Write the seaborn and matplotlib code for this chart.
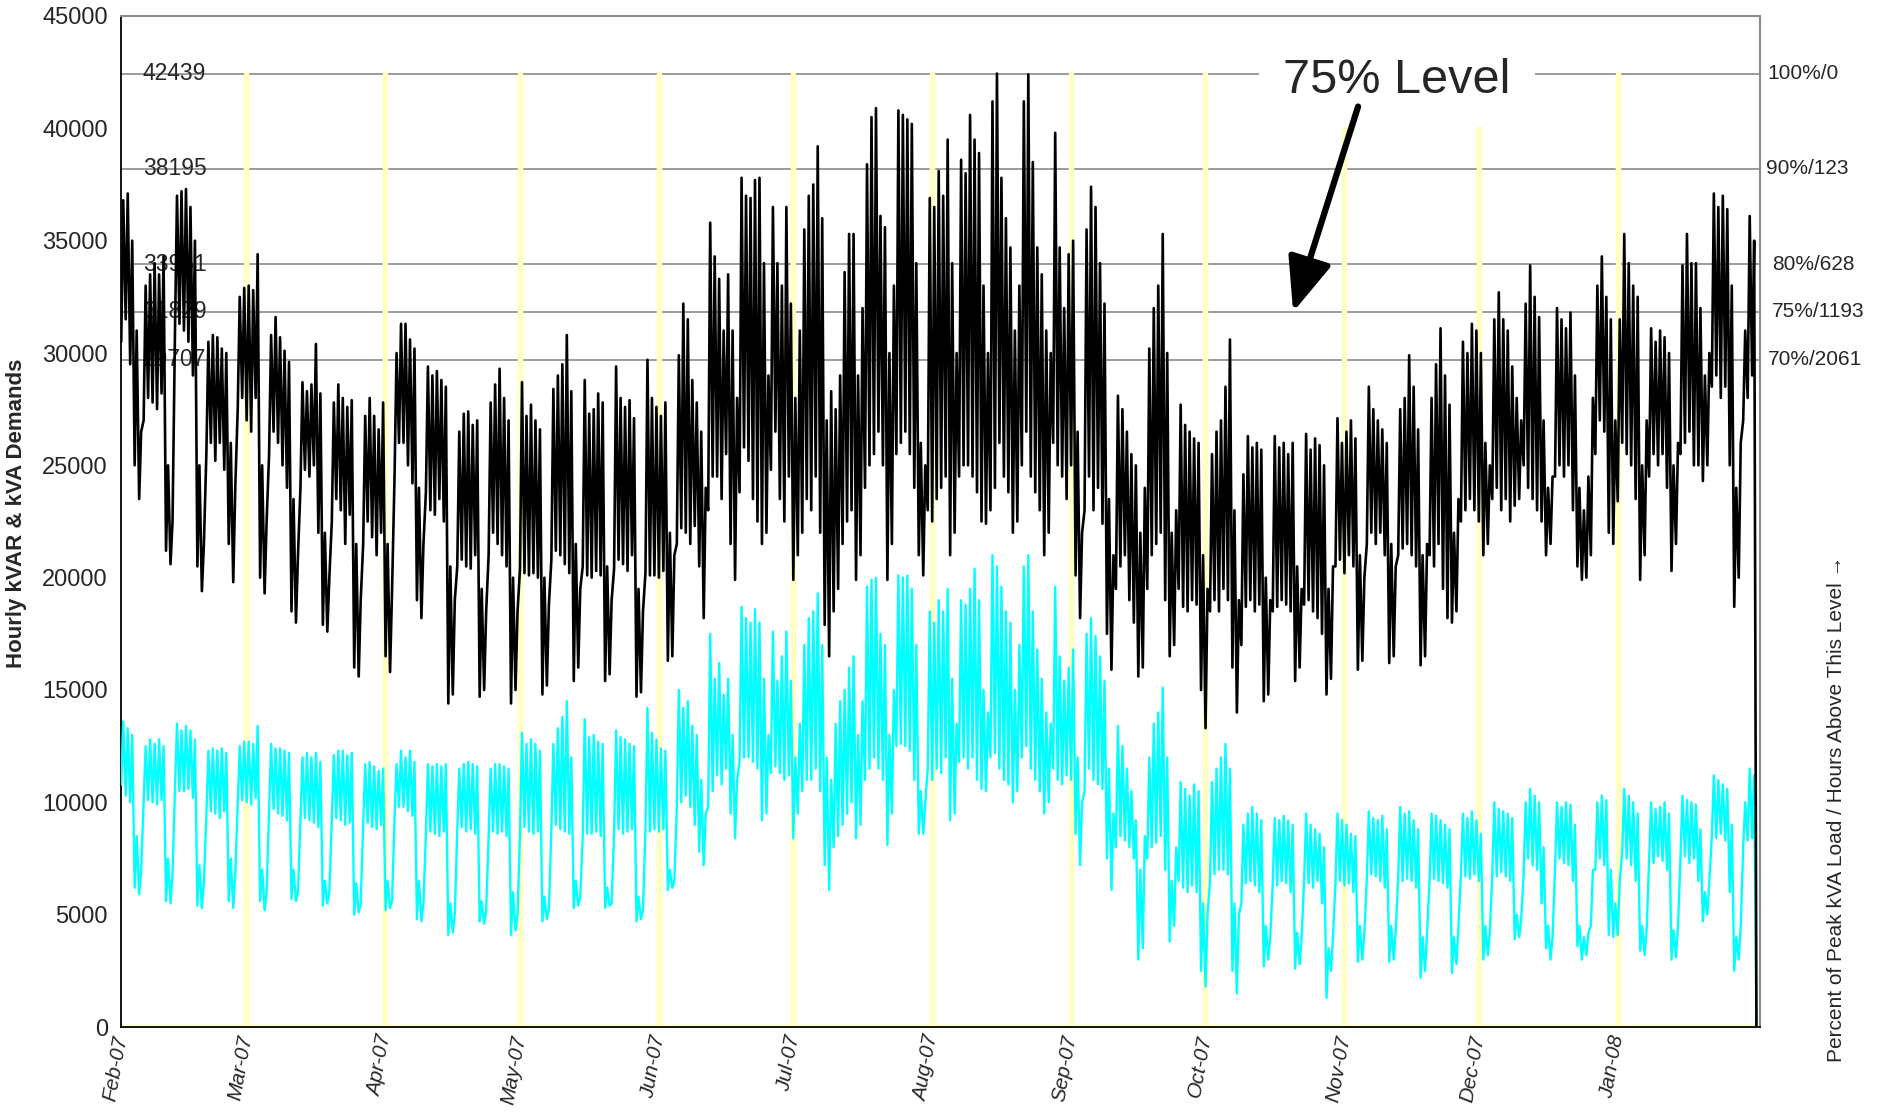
import numpy as np
import pandas as pd
import matplotlib
matplotlib.use('Agg')
import matplotlib.pyplot as plt
import matplotlib.transforms as mtransforms
import seaborn as sns

# Daily peak and overnight low, in thousands (kVA = black trace, kVAR = cyan trace).
# One row per week, starting 1 Feb 2007; last row is the final day.
kva_peak_k = [
    36.8, 37.1, 35.0, 31.0, 26.5, 33.0, 33.5,
    34.0, 33.5, 34.3, 25.0, 22.5, 37.0, 37.2,
    37.3, 36.5, 35.0, 25.0, 21.5, 30.5, 30.8,
    30.7, 30.2, 30.0, 26.0, 24.0, 32.5, 32.9,
    33.0, 32.8, 34.4, 25.0, 22.5, 30.8, 31.6,
    30.7, 30.1, 29.6, 23.5, 21.0, 28.7, 28.3,
    28.6, 30.4, 28.2, 22.0, 20.0, 27.8, 28.6,
    28.0, 27.6, 27.9, 21.5, 19.0, 27.2, 28.0,
    27.2, 26.6, 27.8, 21.5, 19.5, 30.0, 31.3,
    31.3, 30.6, 30.2, 24.0, 21.5, 29.4, 29.0,
    29.2, 28.8, 28.5, 20.5, 19.0, 26.5, 27.3,
    27.4, 26.8, 27.0, 19.5, 18.5, 27.8, 28.6,
    29.3, 28.0, 27.0, 20.0, 18.5, 28.7, 27.2,
    27.7, 27.0, 26.6, 20.0, 18.8, 28.4, 29.0,
    29.5, 30.8, 28.3, 21.5, 19.5, 28.8, 27.3,
    27.5, 28.2, 27.8, 20.5, 19.0, 29.4, 28.0,
    27.6, 27.9, 27.1, 19.5, 18.5, 29.7, 28.0,
    27.6, 27.2, 27.8, 22.0, 21.0, 29.9, 32.2,
    31.5, 28.8, 27.8, 26.5, 24.0, 35.8, 34.3,
    33.3, 31.0, 33.5, 31.0, 28.0, 37.8, 37.0,
    36.9, 37.7, 37.8, 34.0, 29.0, 36.5, 34.0,
    33.0, 36.5, 32.2, 28.0, 31.0, 35.5, 37.0,
    37.5, 39.2, 36.0, 27.0, 28.3, 27.5, 29.0,
    33.6, 35.3, 35.3, 29.0, 32.0, 38.4, 40.5,
    40.9, 36.1, 35.6, 30.0, 33.0, 40.8, 40.6,
    40.4, 40.2, 34.0, 26.0, 25.0, 36.9, 36.5,
    38.1, 37.0, 39.5, 34.0, 30.0, 38.6, 38.0,
    40.6, 39.5, 38.9, 33.0, 30.0, 41.2, 42.439,
    37.8, 36.0, 34.7, 31.0, 33.0, 41.2, 42.4,
    38.5, 34.7, 33.5, 31.0, 30.0, 39.8, 34.7,
    32.0, 34.4, 35.0, 26.5, 22.0, 35.5, 37.4,
    36.5, 34.0, 32.2, 23.5, 21.0, 28.1, 27.5,
    26.5, 25.5, 25.0, 22.0, 24.0, 30.2, 32.0,
    33.0, 35.3, 30.0, 22.0, 23.0, 27.7, 26.8,
    26.5, 26.2, 26.0, 21.0, 19.5, 25.5, 26.5,
    27.0, 28.5, 30.6, 23.0, 19.0, 24.6, 26.3,
    25.8, 26.0, 25.7, 20.0, 19.0, 26.3, 25.8,
    26.0, 25.5, 26.0, 20.5, 19.5, 26.4, 25.7,
    26.2, 25.9, 25.0, 19.5, 20.5, 27.1, 26.0,
    26.5, 27.0, 26.2, 21.0, 20.0, 28.5, 27.5,
    27.0, 26.6, 26.0, 21.5, 20.5, 27.5, 28.0,
    29.9, 28.5, 26.6, 21.0, 21.5, 28.0, 29.5,
    31.1, 29.0, 27.7, 22.0, 23.5, 30.5, 30.0,
    31.3, 31.0, 30.0, 26.0, 25.0, 31.5, 32.7,
    31.5, 31.0, 29.4, 28.0, 27.0, 32.2, 33.9,
    32.5, 31.6, 27.0, 24.0, 24.5, 32.0, 31.5,
    31.1, 31.8, 29.0, 24.0, 23.0, 24.5, 28.0,
    33.0, 34.3, 32.5, 31.5, 27.0, 31.5, 35.3,
    34.0, 33.0, 32.5, 25.0, 27.0, 31.1, 30.5,
    31.0, 30.7, 30.0, 25.0, 26.0, 33.9, 35.3,
    34.0, 34.0, 32.0, 29.0, 30.0, 37.1, 36.5,
    37.0, 36.4, 33.0, 24.0, 26.0, 31.0, 36.1,
    35.0,
]
kva_low_k = [
    30.5, 31.5, 29.5, 25.0, 23.5, 27.0, 28.0,
    27.8, 27.5, 28.2, 21.2, 20.6, 31.0, 31.3,
    31.0, 30.5, 29.0, 20.5, 19.4, 25.5, 26.0,
    25.2, 26.0, 24.8, 21.5, 19.8, 27.5, 28.0,
    27.0, 26.5, 28.0, 20.0, 19.3, 25.5, 26.5,
    26.0, 25.0, 24.0, 18.5, 18.0, 24.0, 24.8,
    24.5, 25.0, 22.0, 17.9, 17.6, 22.5, 23.5,
    23.0, 21.5, 22.8, 16.0, 15.6, 21.5, 22.5,
    21.8, 21.0, 22.0, 16.5, 15.8, 24.5, 26.0,
    26.0, 25.0, 24.2, 19.0, 18.2, 23.8, 23.0,
    22.8, 23.5, 22.5, 14.4, 14.8, 20.5, 20.8,
    20.5, 20.4, 21.0, 14.7, 15.0, 21.0, 22.0,
    21.5, 21.0, 20.5, 14.4, 15.0, 20.4, 20.2,
    20.1, 20.2, 20.0, 14.8, 15.2, 20.8, 21.2,
    21.0, 20.6, 20.2, 15.4, 16.0, 20.5, 20.1,
    20.0, 20.3, 20.1, 15.4, 15.7, 20.4, 20.8,
    20.6, 20.3, 21.0, 14.7, 14.9, 20.2, 20.1,
    20.1, 20.0, 20.3, 16.3, 16.5, 21.5, 22.2,
    22.0, 21.5, 22.3, 20.5, 18.2, 23.0, 24.5,
    24.5, 23.5, 25.5, 21.5, 19.9, 23.8, 25.8,
    25.2, 23.5, 22.5, 21.5, 22.0, 24.8, 26.5,
    23.5, 22.5, 24.5, 19.9, 21.0, 22.0, 23.5,
    23.0, 24.5, 22.0, 17.9, 16.5, 18.5, 19.5,
    21.5, 22.5, 23.0, 19.9, 21.0, 24.0, 25.0,
    25.5, 26.5, 25.0, 19.9, 21.5, 25.5, 26.0,
    26.5, 25.5, 24.0, 21.0, 20.1, 23.0, 22.5,
    23.5, 24.0, 24.5, 21.0, 22.0, 24.5, 25.0,
    25.0, 24.5, 23.8, 22.5, 22.4, 23.0, 24.0,
    26.0, 24.5, 23.8, 22.0, 22.5, 25.0, 26.5,
    24.5, 23.8, 23.0, 21.0, 22.0, 26.0, 25.0,
    24.5, 23.5, 25.0, 20.1, 18.2, 23.0, 24.5,
    23.0, 24.0, 22.4, 17.5, 15.9, 19.5, 20.5,
    21.0, 19.0, 18.0, 15.6, 16.0, 19.5, 21.0,
    21.5, 22.0, 19.0, 16.5, 17.0, 19.5, 18.7,
    18.5, 19.0, 18.8, 15.0, 13.3, 18.5, 19.0,
    18.5, 19.5, 19.0, 16.0, 14.0, 17.0, 18.7,
    19.0, 18.5, 18.8, 14.5, 14.8, 18.5, 18.7,
    19.0, 18.8, 18.5, 15.4, 16.0, 18.8, 19.0,
    18.5, 18.2, 17.5, 14.8, 15.5, 20.5, 20.8,
    20.2, 21.0, 20.5, 15.9, 16.3, 21.5, 22.0,
    21.5, 22.0, 21.0, 16.2, 16.5, 21.0, 21.3,
    21.5, 21.0, 20.5, 16.1, 16.5, 21.0, 20.5,
    21.5, 19.5, 18.2, 18.0, 18.5, 22.5, 23.0,
    23.5, 23.0, 22.5, 21.0, 21.5, 23.5, 24.0,
    23.0, 23.5, 22.5, 23.2, 23.5, 25.0, 24.0,
    23.5, 23.0, 22.5, 21.0, 21.5, 24.5, 25.0,
    24.5, 25.0, 23.0, 20.5, 19.9, 20.0, 21.0,
    25.5, 27.0, 26.5, 22.0, 21.5, 23.4, 26.0,
    25.5, 25.0, 23.5, 19.9, 21.0, 24.5, 25.5,
    25.0, 25.5, 24.0, 20.3, 21.5, 25.5, 26.0,
    26.5, 25.0, 25.0, 24.3, 25.0, 28.5, 29.0,
    28.0, 28.5, 25.0, 18.7, 20.0, 27.0, 28.0,
    29.0,
]
kvar_peak_k = [
    13.6, 13.3, 13.0, 8.5, 7.0, 12.5, 12.8,
    12.6, 12.8, 12.5, 7.5, 6.8, 13.5, 13.2,
    13.4, 13.2, 12.8, 7.2, 6.5, 12.3, 12.4,
    12.3, 12.4, 12.2, 7.5, 6.8, 12.5, 12.7,
    12.7, 12.6, 13.4, 7.0, 6.0, 12.6, 12.4,
    12.4, 12.3, 12.2, 7.0, 6.0, 12.0, 12.2,
    12.0, 12.2, 11.8, 6.5, 6.0, 12.1, 12.3,
    12.3, 12.1, 12.2, 6.4, 5.5, 11.7, 11.8,
    11.6, 11.4, 11.5, 6.5, 5.6, 11.7, 12.3,
    12.0, 12.3, 11.8, 6.5, 5.5, 11.7, 11.6,
    11.7, 11.6, 11.7, 5.5, 5.0, 11.5, 11.7,
    11.8, 11.7, 11.6, 5.6, 5.2, 11.5, 11.7,
    11.7, 11.6, 11.5, 6.0, 5.0, 13.1, 12.6,
    12.8, 12.6, 12.3, 5.8, 5.2, 12.6, 13.3,
    13.8, 14.5, 12.0, 6.5, 5.8, 13.7, 12.9,
    13.0, 12.7, 12.6, 6.2, 5.5, 13.2, 12.9,
    12.8, 12.6, 12.5, 5.8, 5.2, 14.2, 13.1,
    12.8, 12.4, 12.3, 7.0, 6.5, 15.0, 14.2,
    14.5, 13.4, 13.0, 11.0, 9.5, 17.5, 15.5,
    16.2, 14.8, 15.5, 13.0, 11.0, 18.7, 18.2,
    18.0, 18.6, 18.0, 15.5, 13.0, 17.6, 15.4,
    16.5, 17.6, 15.4, 12.0, 13.5, 17.0, 18.2,
    18.5, 19.3, 17.0, 12.0, 11.0, 13.5, 14.5,
    15.0, 16.0, 16.5, 13.0, 14.5, 19.6, 19.9,
    20.0, 17.5, 17.0, 13.0, 15.0, 20.1, 20.0,
    20.1, 19.5, 17.0, 10.5, 10.0, 18.5, 18.0,
    19.0, 18.5, 19.5, 15.5, 13.5, 19.0, 18.8,
    19.5, 20.4, 19.0, 15.0, 14.0, 21.0, 20.5,
    19.6, 18.5, 18.0, 15.0, 17.0, 20.5, 21.0,
    18.5, 16.8, 15.5, 14.0, 13.5, 19.6, 16.5,
    15.4, 16.0, 16.8, 12.0, 10.0, 17.5, 18.2,
    17.4, 16.5, 15.4, 11.5, 9.5, 13.4, 12.5,
    11.5, 10.5, 9.2, 7.0, 8.5, 12.0, 13.5,
    14.0, 15.1, 12.0, 6.5, 8.0, 10.9, 10.6,
    10.3, 10.8, 10.5, 5.5, 5.0, 10.9, 11.5,
    12.0, 12.6, 11.5, 5.5, 5.0, 9.0, 9.5,
    9.8, 9.5, 9.2, 4.5, 4.0, 9.3, 9.2,
    9.4, 9.2, 9.0, 4.2, 4.0, 9.5, 9.0,
    8.8, 8.6, 8.0, 3.5, 4.0, 9.5, 9.2,
    9.0, 8.6, 8.5, 4.5, 4.2, 9.6, 9.3,
    9.2, 9.4, 8.8, 4.5, 4.3, 9.8, 9.5,
    9.6, 9.2, 8.8, 4.0, 4.2, 9.5, 9.4,
    9.2, 9.0, 8.8, 4.0, 4.5, 9.5, 9.3,
    9.6, 9.2, 8.6, 4.5, 4.2, 10.0, 9.7,
    9.6, 9.5, 9.3, 5.0, 4.8, 10.0, 10.6,
    10.3, 10.0, 8.0, 4.5, 4.0, 10.0, 9.8,
    10.0, 9.9, 9.0, 4.5, 4.0, 4.2, 7.0,
    10.0, 10.3, 10.1, 7.0, 5.5, 6.5, 10.6,
    10.3, 10.0, 9.5, 4.5, 4.3, 10.0, 9.7,
    9.8, 10.0, 9.5, 4.3, 4.5, 10.3, 10.1,
    10.0, 9.9, 8.8, 6.0, 6.5, 11.2, 11.0,
    10.8, 10.6, 9.0, 4.0, 4.5, 10.0, 11.5,
    11.2,
]
kvar_low_k = [
    10.8, 10.3, 10.0, 6.2, 5.9, 10.0, 10.1,
    10.0, 9.9, 10.1, 5.6, 5.5, 10.6, 10.5,
    10.5, 10.6, 10.2, 5.4, 5.3, 9.4, 9.6,
    9.5, 9.3, 9.6, 5.6, 5.3, 10.0, 10.1,
    10.0, 9.9, 10.2, 5.6, 5.2, 9.6, 9.7,
    9.5, 9.4, 9.2, 5.7, 5.6, 9.2, 9.3,
    9.2, 9.1, 8.9, 5.4, 5.5, 9.2, 9.3,
    9.2, 9.0, 9.1, 5.0, 5.1, 9.0, 9.1,
    8.9, 8.8, 9.0, 5.2, 5.3, 9.3, 9.8,
    9.8, 9.6, 9.4, 4.8, 4.7, 8.6, 8.7,
    8.6, 8.5, 8.7, 4.1, 4.2, 8.8, 8.9,
    8.7, 8.8, 8.6, 4.7, 4.6, 8.5, 8.7,
    8.6, 8.7, 8.5, 4.1, 4.3, 8.6, 8.9,
    8.7, 8.6, 8.7, 4.7, 4.8, 8.8, 9.0,
    8.8, 8.7, 8.6, 5.3, 5.4, 8.5, 8.6,
    8.6, 8.7, 8.5, 5.3, 5.4, 8.7, 8.8,
    8.6, 8.7, 8.8, 4.7, 4.8, 8.8, 8.7,
    8.8, 8.7, 8.8, 6.1, 6.2, 9.8, 10.0,
    10.3, 9.8, 9.0, 7.8, 7.2, 9.8, 10.5,
    11.2, 10.8, 11.5, 9.5, 8.4, 11.8, 12.0,
    12.0, 11.8, 11.5, 9.2, 9.5, 11.3, 11.6,
    11.3, 11.0, 11.2, 8.4, 9.5, 10.5, 11.0,
    11.0, 11.5, 10.5, 7.2, 6.1, 8.0, 8.5,
    9.0, 9.5, 10.0, 8.4, 9.0, 11.0, 11.5,
    12.0, 11.5, 11.0, 8.1, 9.5, 12.5, 12.6,
    12.5, 12.3, 11.0, 8.6, 8.6, 11.5, 11.0,
    11.5, 11.3, 12.0, 9.2, 9.5, 11.8, 12.0,
    11.5, 12.0, 11.0, 10.6, 10.5, 12.0, 12.2,
    11.5, 11.0, 10.8, 10.0, 10.5, 12.0, 12.5,
    11.5, 11.0, 10.5, 9.5, 10.0, 11.5, 11.0,
    10.8, 11.2, 11.0, 8.6, 7.2, 10.5, 11.5,
    11.0, 10.8, 10.6, 7.5, 6.1, 8.0, 8.5,
    8.3, 8.0, 7.5, 3.0, 3.5, 7.5, 8.0,
    8.2, 8.5, 7.0, 3.8, 4.5, 6.5, 6.2,
    6.0, 6.3, 6.0, 2.5, 1.8, 6.5, 6.8,
    7.0, 7.0, 6.8, 2.5, 1.5, 5.5, 6.4,
    6.5, 6.3, 6.0, 2.7, 3.0, 6.4, 6.3,
    6.5, 6.4, 6.0, 2.6, 2.8, 6.5, 6.4,
    6.2, 6.5, 5.5, 1.3, 2.5, 6.4, 6.5,
    6.3, 6.4, 6.0, 2.9, 3.0, 6.6, 6.8,
    6.7, 6.5, 6.2, 2.9, 3.0, 6.7, 6.5,
    6.6, 6.5, 6.2, 2.2, 2.5, 6.5, 6.6,
    6.5, 6.4, 6.2, 2.4, 2.8, 6.8, 6.7,
    6.6, 6.8, 6.5, 3.0, 3.2, 6.8, 6.7,
    6.9, 6.7, 6.5, 3.9, 4.0, 6.8, 7.5,
    7.2, 7.0, 5.5, 3.5, 3.0, 7.0, 7.5,
    7.3, 7.2, 6.5, 3.6, 3.0, 3.2, 4.5,
    7.0, 7.5, 7.2, 4.1, 4.0, 4.1, 7.8,
    7.5, 7.2, 6.5, 3.4, 3.2, 7.5, 7.3,
    7.6, 7.4, 7.0, 3.0, 3.1, 7.5, 7.6,
    7.3, 7.5, 6.5, 4.7, 5.0, 8.5, 8.4,
    8.6, 8.3, 6.0, 2.5, 3.0, 8.0, 8.3,
    8.4,
]
final_reading = 0  # both traces drop to zero at the end of the file

month_labels = ['Feb-07', 'Mar-07', 'Apr-07', 'May-07', 'Jun-07', 'Jul-07',
                'Aug-07', 'Sep-07', 'Oct-07', 'Nov-07', 'Dec-07', 'Jan-08']
month_starts = pd.date_range('2007-02-01', periods=12, freq='MS')

peak_kva = 42439
levels = [42439, 38195, 33951, 31829, 29707]
level_tags = ['100%/0', '90%/123', '80%/628', '75%/1193', '70%/2061']

sns.set_theme(style='white')
plt.rcParams['font.family'] = ['Liberation Sans', 'DejaVu Sans']

# build the trace: overnight low then afternoon peak for every day
n_days = len(kva_peak_k)
days = np.arange(n_days)
t = np.append(np.column_stack([days + 0.05, days + 0.5]).ravel(), n_days)
kva = np.append(np.column_stack([kva_low_k, kva_peak_k]).ravel() * 1000, final_reading)
kvar = np.append(np.column_stack([kvar_low_k, kvar_peak_k]).ravel() * 1000, final_reading)

month_x = np.array((month_starts - month_starts[0]).days, dtype=float)

fig, ax = plt.subplots(figsize=(18.83, 11.17), dpi=100)
fig.subplots_adjust(left=121 / 1883, right=1760 / 1883, bottom=1 - 1027 / 1117, top=1 - 16 / 1117)

# percent-of-peak levels
for lv in levels:
    ax.axhline(lv, color='#8a8a8a', lw=1.2, zorder=1)

# month marker series (spikes to the peak at each month start)
mx = np.concatenate([[0], np.repeat(month_x[1:], 3), [n_days]])
my = np.concatenate([[0], np.tile([0, peak_kva, 0], len(month_x) - 1), [0]])
ax.plot(mx, my, color='#FFFFC0', lw=3.8, zorder=2)

sns.lineplot(x=t, y=kvar, sort=False, estimator=None, color='#00FFFF', lw=1.7, ax=ax, zorder=3)
sns.lineplot(x=t, y=kva, sort=False, estimator=None, color='black', lw=1.9, ax=ax, zorder=4)

ax.set_xlim(0, 365.8)
ax.set_ylim(0, 45000)
ax.set_yticks(np.arange(0, 45001, 5000))
ax.set_yticklabels([str(v) for v in range(0, 45001, 5000)], fontsize=17)
ax.set_xticks(month_x)
ax.set_xticklabels(month_labels, fontsize=15, rotation=80, style='italic',
                   ha='right', va='center', rotation_mode='anchor')
ax.tick_params(axis='x', length=0, pad=6)
ax.tick_params(axis='y', direction='inout', length=11, width=1.2, color='black', pad=4)

for side in ['left', 'bottom']:
    ax.spines[side].set_color('black')
    ax.spines[side].set_linewidth(1.3)
for side in ['top', 'right']:
    ax.spines[side].set_color('#8a8a8a')
    ax.spines[side].set_linewidth(1.5)

ax.set_ylabel('Hourly kVAR & kVA Demands', fontsize=16, fontweight='bold')
ax.yaxis.set_label_coords(-0.0574, 0.508)

# level values on the left, percent / hours on the right
trans = mtransforms.blended_transform_factory(ax.transAxes, ax.transData)
for lv in levels:
    ax.text(0.0134, lv, str(lv), transform=trans, fontsize=16.5, ha='left', va='center', zorder=1.5)
right_x = [1.0043, 1.0037, 1.0073, 1.0073, 1.0049]
for lv, tag, rx in zip(levels, level_tags, right_x):
    ax.text(rx, lv, tag, transform=trans, fontsize=15, ha='left', va='center', clip_on=False)

fig.text(1837 / 1883, 1 - 809 / 1117, 'Percent of Peak kVA Load / Hours Above This Level \u2192',
         rotation=90, fontsize=15, ha='center', va='center')

# callout
ax.text(284.8, 42150, '75% Level', fontsize=35, ha='center', va='center', zorder=6,
        bbox=dict(boxstyle='square,pad=0.5', fc='white', ec='none'))
ax.annotate('', xy=(261.6, 31829), xytext=(276.1, 40970), zorder=7,
            arrowprops=dict(arrowstyle='-|>,head_width=0.45,head_length=1.1',
                            color='black', lw=4.5, mutation_scale=30, shrinkA=0, shrinkB=0))

fig.savefig('out.png', dpi=100, facecolor='white')
